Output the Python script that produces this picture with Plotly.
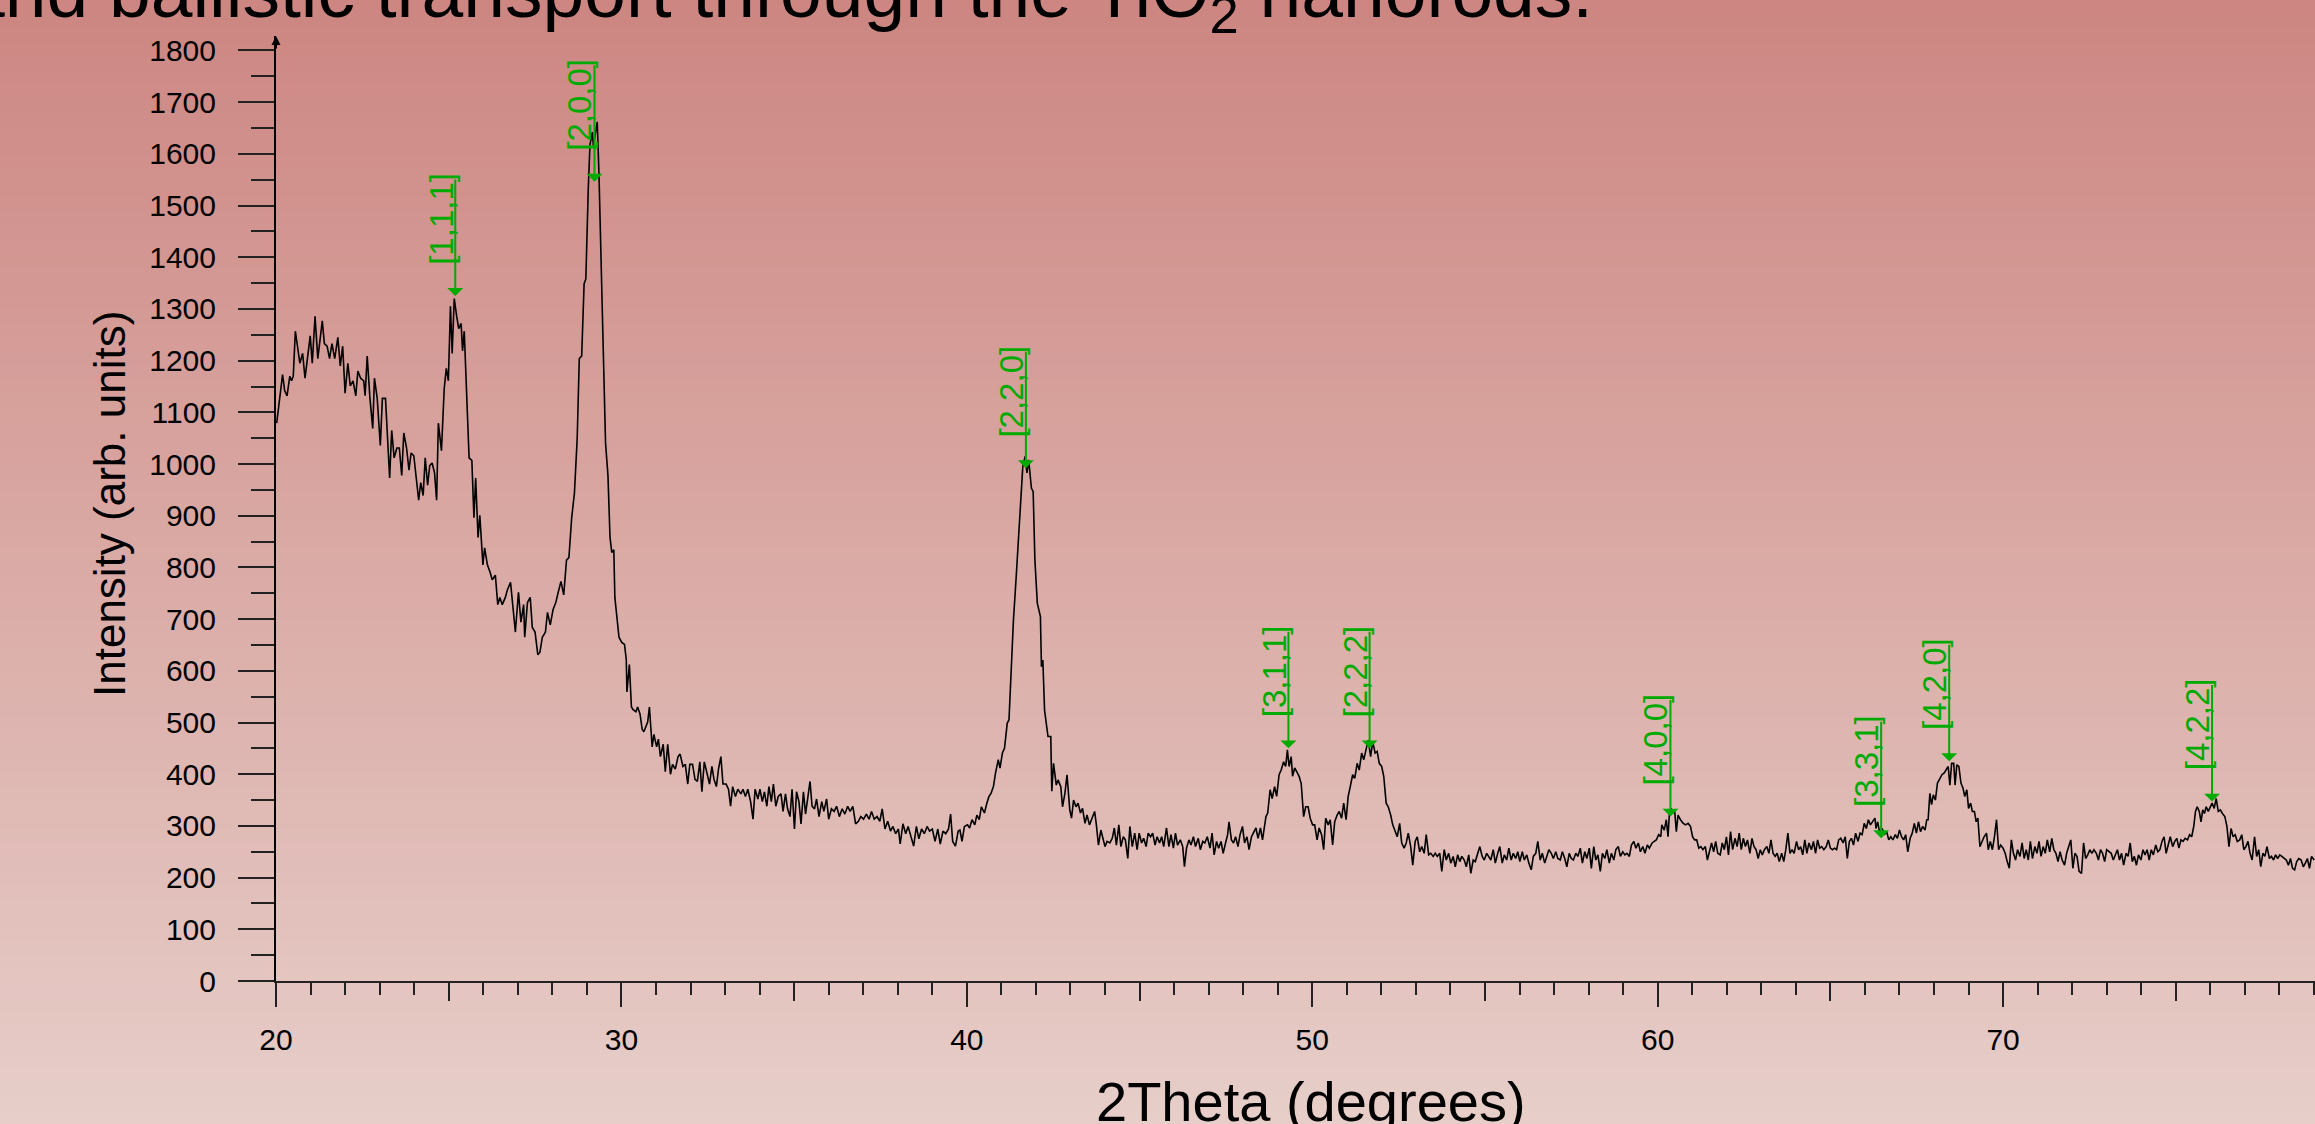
import plotly.graph_objects as go

# ---------------- data ----------------
two_theta = [
    20.02, 20.11, 20.19, 20.25, 20.32, 20.40, 20.45, 20.50, 20.56, 20.63, 20.69, 20.77, 20.84, 20.91, 20.99,
    21.05, 21.13, 21.21, 21.27, 21.34, 21.40, 21.48, 21.55, 21.62, 21.70, 21.79, 21.86, 21.93, 22.00, 22.08,
    22.15, 22.23, 22.31, 22.37, 22.45, 22.54, 22.58, 22.64, 22.72, 22.80, 22.85, 22.93, 23.02, 23.08, 23.17,
    23.21, 23.29, 23.35, 23.42, 23.50, 23.57, 23.64, 23.70, 23.78, 23.85, 23.91, 23.99, 24.06, 24.13, 24.19,
    24.26, 24.32, 24.39, 24.45, 24.52, 24.59, 24.65, 24.70, 24.79, 24.87, 24.93, 24.99, 25.05, 25.10, 25.16,
    25.23, 25.29, 25.36, 25.40, 25.45, 25.51, 25.59, 25.67, 25.73, 25.78, 25.85, 25.90, 25.99, 26.04, 26.12,
    26.20, 26.26, 26.35, 26.42, 26.48, 26.55, 26.64, 26.70, 26.79, 26.87, 26.93, 27.02, 27.09, 27.17, 27.20,
    27.28, 27.36, 27.42, 27.50, 27.58, 27.64, 27.71, 27.80, 27.86, 27.94, 28.02, 28.10, 28.17, 28.25, 28.33,
    28.41, 28.48, 28.56, 28.64, 28.72, 28.78, 28.85, 28.92, 28.97, 29.04, 29.09, 29.16, 29.19, 29.23, 29.30,
    29.35, 29.41, 29.48, 29.54, 29.61, 29.67, 29.72, 29.78, 29.81, 29.88, 29.93, 30.01, 30.09, 30.14, 30.16,
    30.23, 30.29, 30.34, 30.42, 30.47, 30.54, 30.60, 30.65, 30.76, 30.81, 30.89, 30.94, 31.02, 31.07, 31.13,
    31.21, 31.27, 31.34, 31.42, 31.48, 31.56, 31.64, 31.70, 31.78, 31.85, 31.92, 31.98, 32.06, 32.13, 32.20,
    32.27, 32.33, 32.40, 32.49, 32.55, 32.62, 32.68, 32.75, 32.81, 32.88, 32.94, 33.03, 33.10, 33.16, 33.22,
    33.30, 33.37, 33.46, 33.52, 33.59, 33.66, 33.74, 33.81, 33.87, 33.95, 34.01, 34.08, 34.14, 34.21, 34.27,
    34.34, 34.40, 34.47, 34.54, 34.62, 34.68, 34.75, 34.81, 34.88, 34.94, 35.01, 35.07, 35.14, 35.20, 35.27,
    35.33, 35.40, 35.46, 35.52, 35.59, 35.65, 35.72, 35.80, 35.86, 35.94, 36.00, 36.08, 36.16, 36.23, 36.31,
    36.39, 36.47, 36.55, 36.62, 36.70, 36.78, 36.86, 36.93, 37.01, 37.09, 37.17, 37.24, 37.32, 37.40, 37.48,
    37.55, 37.63, 37.71, 37.79, 37.86, 37.94, 38.02, 38.07, 38.15, 38.23, 38.30, 38.38, 38.46, 38.54, 38.61,
    38.69, 38.77, 38.85, 38.92, 39.00, 39.08, 39.16, 39.23, 39.31, 39.39, 39.47, 39.53, 39.59, 39.67, 39.75,
    39.80, 39.86, 39.93, 40.02, 40.08, 40.15, 40.23, 40.29, 40.36, 40.42, 40.51, 40.58, 40.64, 40.70, 40.77,
    40.83, 40.91, 40.96, 41.03, 41.09, 41.17, 41.22, 41.29, 41.35, 41.43, 41.49, 41.57, 41.62, 41.69, 41.74,
    41.79, 41.87, 41.92, 41.97, 42.04, 42.13, 42.16, 42.20, 42.25, 42.35, 42.43, 42.46, 42.51, 42.59, 42.64,
    42.72, 42.77, 42.84, 42.90, 42.98, 43.03, 43.09, 43.16, 43.22, 43.29, 43.35, 43.42, 43.48, 43.55, 43.62,
    43.70, 43.75, 43.81, 43.88, 43.93, 44.00, 44.06, 44.14, 44.21, 44.27, 44.33, 44.40, 44.46, 44.53, 44.59,
    44.66, 44.72, 44.79, 44.86, 44.93, 44.99, 45.06, 45.12, 45.19, 45.25, 45.32, 45.38, 45.45, 45.51, 45.58,
    45.64, 45.70, 45.78, 45.85, 45.91, 45.98, 46.04, 46.10, 46.18, 46.25, 46.30, 46.36, 46.43, 46.49, 46.56,
    46.62, 46.70, 46.76, 46.83, 46.89, 46.96, 47.04, 47.10, 47.16, 47.23, 47.29, 47.36, 47.42, 47.49, 47.55,
    47.59, 47.66, 47.72, 47.78, 47.85, 47.91, 47.98, 48.04, 48.11, 48.17, 48.24, 48.30, 48.37, 48.43, 48.50,
    48.56, 48.62, 48.66, 48.71, 48.78, 48.84, 48.91, 48.97, 49.04, 49.10, 49.17, 49.23, 49.28, 49.33, 49.39,
    49.43, 49.49, 49.55, 49.62, 49.68, 49.75, 49.81, 49.88, 49.94, 50.01, 50.07, 50.14, 50.20, 50.27, 50.33,
    50.39, 50.46, 50.52, 50.59, 50.65, 50.72, 50.78, 50.85, 50.91, 50.98, 51.04, 51.10, 51.17, 51.23, 51.30,
    51.36, 51.43, 51.49, 51.56, 51.62, 51.69, 51.75, 51.82, 51.88, 51.94, 52.01, 52.07, 52.14, 52.20, 52.27,
    52.33, 52.40, 52.46, 52.53, 52.59, 52.66, 52.72, 52.78, 52.85, 52.91, 52.98, 53.04, 53.11, 53.17, 53.24,
    53.30, 53.37, 53.43, 53.50, 53.56, 53.62, 53.69, 53.75, 53.82, 53.88, 53.95, 54.01, 54.08, 54.14, 54.21,
    54.27, 54.33, 54.40, 54.46, 54.53, 54.59, 54.66, 54.72, 54.79, 54.85, 54.92, 54.98, 55.05, 55.11, 55.17,
    55.24, 55.30, 55.37, 55.43, 55.50, 55.56, 55.63, 55.69, 55.76, 55.82, 55.89, 55.95, 56.01, 56.08, 56.14,
    56.21, 56.27, 56.34, 56.40, 56.47, 56.53, 56.60, 56.66, 56.73, 56.79, 56.85, 56.92, 56.98, 57.05, 57.11,
    57.18, 57.24, 57.31, 57.37, 57.44, 57.50, 57.56, 57.63, 57.69, 57.76, 57.82, 57.89, 57.95, 58.02, 58.08,
    58.15, 58.21, 58.27, 58.34, 58.40, 58.47, 58.53, 58.60, 58.66, 58.73, 58.79, 58.86, 58.92, 58.99, 59.05,
    59.11, 59.18, 59.24, 59.31, 59.37, 59.44, 59.50, 59.57, 59.63, 59.70, 59.76,
    59.84, 59.90, 59.96, 60.03, 60.09, 60.12, 60.19, 60.25, 60.30, 60.34, 60.39, 60.44, 60.49, 60.54, 60.59,
    60.66, 60.74, 60.81, 60.88, 60.95, 61.01, 61.07, 61.13, 61.19, 61.25, 61.31, 61.38, 61.44, 61.50, 61.56,
    61.62, 61.68, 61.74, 61.81, 61.87, 61.93, 61.99, 62.05, 62.11, 62.17, 62.24, 62.30, 62.36, 62.42, 62.48,
    62.54, 62.60, 62.67, 62.73, 62.79, 62.85, 62.91, 62.97, 63.03, 63.09, 63.16, 63.22, 63.28, 63.34, 63.40,
    63.46, 63.52, 63.59, 63.65, 63.71, 63.77, 63.83, 63.89, 63.95, 64.02, 64.08, 64.14, 64.20, 64.26, 64.32,
    64.38, 64.45, 64.51, 64.57, 64.63, 64.69, 64.75, 64.81, 64.88, 64.94, 65.00, 65.06, 65.12, 65.18, 65.24,
    65.30, 65.37, 65.43, 65.49, 65.55, 65.61, 65.67, 65.73, 65.80, 65.86, 65.92, 65.98, 66.04, 66.10, 66.16,
    66.23, 66.29, 66.32, 66.37, 66.43, 66.50, 66.56, 66.63, 66.69, 66.75, 66.81, 66.88, 66.94, 67.00, 67.06,
    67.12, 67.18, 67.24, 67.31, 67.37, 67.43, 67.49, 67.55, 67.61, 67.67, 67.74, 67.79, 67.83, 67.88, 67.93,
    67.98, 68.04, 68.10, 68.17, 68.23, 68.29, 68.35, 68.41, 68.46, 68.51, 68.57, 68.61, 68.66, 68.72, 68.78,
    68.84, 68.89, 68.95, 69.00, 69.06, 69.11, 69.17, 69.22, 69.27, 69.33, 69.39, 69.45, 69.52, 69.57, 69.63,
    69.69, 69.75, 69.81, 69.87, 69.93, 70.00, 70.06, 70.12, 70.18, 70.24, 70.30, 70.36, 70.42, 70.49, 70.55,
    70.61, 70.67, 70.73, 70.79, 70.85, 70.92, 70.98, 71.04, 71.10, 71.16, 71.22, 71.28, 71.35, 71.41, 71.47,
    71.53, 71.59, 71.65, 71.71, 71.78, 71.84, 71.90, 71.96, 72.02, 72.08, 72.14, 72.20, 72.27, 72.33, 72.39,
    72.45, 72.51, 72.57, 72.63, 72.70, 72.76, 72.82, 72.88, 72.94, 73.00, 73.06, 73.13, 73.19, 73.25, 73.31,
    73.37, 73.43, 73.49, 73.56, 73.62, 73.68, 73.74, 73.80, 73.86, 73.92, 73.99, 74.05, 74.11, 74.17, 74.23,
    74.29, 74.35, 74.42, 74.48, 74.54, 74.60, 74.66, 74.72, 74.78, 74.84, 74.91, 74.97, 75.03, 75.09, 75.15,
    75.21, 75.27, 75.34, 75.40, 75.46, 75.52, 75.57, 75.62, 75.68, 75.73, 75.78, 75.83, 75.88, 75.94, 75.99,
    76.05, 76.11, 76.17, 76.23, 76.29, 76.35, 76.42, 76.48, 76.54, 76.60, 76.66, 76.72, 76.78, 76.85, 76.91,
    76.97, 77.03, 77.09, 77.15, 77.21, 77.28, 77.34, 77.40, 77.46, 77.52, 77.58, 77.64, 77.71, 77.77, 77.83,
    77.89, 77.95, 78.01, 78.07, 78.14, 78.20, 78.26, 78.32, 78.38, 78.44, 78.50, 78.56, 78.63, 78.69, 78.75,
    78.81, 78.87, 78.93, 79.01,
]

intensity = [
    1079, 1127, 1173, 1142, 1132, 1170, 1161, 1170, 1257, 1224, 1195, 1214, 1166, 1204, 1248,
    1195, 1286, 1204, 1243, 1277, 1233, 1228, 1204, 1233, 1204, 1245, 1190, 1228, 1137, 1195,
    1151, 1161, 1132, 1180, 1166, 1161, 1132, 1209, 1127, 1069, 1166, 1127, 1036, 1127, 1127,
    1065, 973, 1065, 1012, 1031, 1031, 978, 1060, 1031, 988, 1021, 1016, 973, 930, 964,
    939, 1012, 959, 997, 1002, 983, 930, 1079, 1026, 1146, 1185, 1161, 1305, 1214, 1320,
    1286, 1262, 1272, 1219, 1257, 1146, 1012, 1007, 896, 973, 858, 901, 805, 838, 805,
    790, 776, 785, 728, 742, 728, 742, 757, 771, 713, 675, 752, 694, 728, 665,
    732, 742, 684, 675, 631, 636, 665, 675, 713, 689, 718, 732, 752, 773, 747,
    814, 819, 896, 944, 1050, 1204, 1209, 1349, 1358, 1532, 1618, 1642, 1614, 1633, 1662,
    1561, 1397, 1238, 1041, 978, 858, 829, 834, 742, 699, 665, 655, 651, 622, 559,
    612, 530, 525, 521, 530, 516, 487, 482, 501, 530, 453, 477, 453, 468, 434,
    458, 405, 458, 400, 419, 410, 434, 439, 415, 419, 381, 419, 419, 390, 386,
    424, 366, 424, 400, 381, 415, 390, 376, 410, 434, 381, 381, 371, 338, 376,
    357, 371, 362, 371, 357, 371, 347, 313, 371, 352, 371, 347, 366, 338, 376,
    347, 381, 338, 357, 362, 328, 362, 333, 318, 371, 294, 366, 347, 304, 366,
    323, 362, 386, 338, 333, 352, 318, 347, 328, 352, 313, 333, 328, 338, 318,
    333, 323, 338, 328, 338, 304, 309, 318, 313, 323, 313, 328, 313, 318, 309,
    333, 294, 309, 290, 299, 285, 294, 265, 304, 285, 299, 280, 261, 299, 275,
    294, 285, 299, 290, 294, 270, 294, 265, 290, 285, 294, 323, 270, 261, 290,
    292, 270, 299, 302, 296, 312, 302, 321, 312, 337, 325, 344, 357, 363, 376,
    402, 428, 412, 441, 450, 499, 505, 608, 699, 783, 853, 937, 995, 1015, 983,
    1008, 953, 947, 815, 731, 705, 608, 621, 524, 473, 473, 367, 421, 379, 389,
    376, 337, 363, 399, 331, 315, 350, 337, 344, 325, 334, 305, 321, 302, 315,
    328, 302, 263, 292, 276, 260, 270, 267, 276, 296, 263, 302, 260, 279, 273,
    237, 299, 260, 286, 254, 286, 267, 276, 260, 286, 279, 286, 263, 279, 267,
    279, 260, 296, 260, 283, 257, 286, 263, 273, 260, 221, 257, 273, 263, 279,
    260, 276, 254, 270, 267, 279, 257, 286, 244, 270, 257, 270, 247, 267, 283,
    308, 273, 267, 279, 260, 283, 299, 267, 279, 254, 279, 286, 296, 276, 296,
    273, 299, 318, 325, 370, 353, 376, 357, 399, 408, 424, 415, 447, 415, 434,
    396, 412, 405, 396, 382, 318, 337, 337, 315, 302, 302, 273, 296, 283, 254,
    315, 302, 312, 263, 308, 321, 328, 315, 344, 312, 357, 376, 399, 392, 421,
    408, 441, 428, 450, 466, 434, 463, 441, 444, 421, 415, 396, 344, 337, 321,
    302, 289, 279, 305, 267, 257, 267, 286, 260, 224, 270, 279, 250, 260, 247,
    283, 244, 247, 241, 247, 241, 247, 212, 254, 234, 247, 228, 241, 221, 244,
    231, 241, 234, 221, 244, 208, 234, 231, 247, 260, 241, 234, 247, 241, 234,
    254, 228, 247, 260, 228, 244, 234, 257, 234, 247, 237, 250, 231, 250, 234,
    244, 228, 215, 241, 247, 270, 234, 247, 228, 241, 254, 247, 237, 250, 237,
    234, 250, 237, 221, 247, 237, 234, 247, 241, 257, 228, 250, 237, 257, 218,
    260, 234, 244, 212, 247, 237, 254, 228, 247, 234, 254, 260, 241, 250, 244,
    247, 241, 263, 270, 257, 267, 250, 260, 247, 263, 257,
    267, 270, 273, 283, 279, 302, 292, 312, 279, 325, 334, 325, 331, 289, 321,
    312, 305, 302, 305, 299, 279, 273, 273, 257, 260, 254, 260, 234, 254, 267,
    250, 270, 247, 244, 267, 254, 279, 244, 289, 254, 276, 260, 286, 254, 276,
    260, 273, 247, 276, 260, 254, 237, 254, 244, 254, 260, 247, 273, 247, 241,
    247, 231, 247, 231, 254, 286, 247, 254, 247, 270, 254, 260, 244, 273, 247,
    267, 254, 270, 247, 273, 257, 260, 254, 260, 273, 257, 254, 257, 254, 273,
    276, 267, 279, 237, 270, 276, 263, 286, 270, 286, 283, 305, 295, 312, 302,
    308, 315, 295, 308, 286, 295, 283, 289, 273, 279, 273, 283, 276, 292, 279,
    273, 283, 250, 276, 286, 305, 286, 308, 289, 299, 292, 312, 312, 363, 341,
    360, 350, 383, 392, 399, 402, 408, 415, 379, 421, 421, 379, 418, 415, 383,
    373, 357, 370, 334, 344, 328, 328, 308, 315, 260, 270, 279, 286, 254, 270,
    254, 279, 312, 254, 263, 257, 247, 231, 218, 273, 247, 234, 254, 241, 267,
    237, 254, 234, 270, 237, 260, 247, 270, 241, 260, 247, 273, 250, 276, 254,
    247, 231, 250, 234, 224, 247, 260, 273, 218, 247, 241, 212, 208, 267, 237,
    244, 254, 247, 254, 247, 234, 254, 247, 231, 254, 250, 247, 234, 244, 254,
    234, 247, 224, 247, 241, 267, 231, 241, 224, 244, 234, 254, 244, 254, 234,
    254, 244, 263, 250, 254, 270, 279, 247, 263, 279, 260, 270, 276, 257, 273,
    270, 276, 273, 283, 279, 299, 328, 337, 328, 308, 331, 324, 337, 328, 337,
    344, 334, 353, 328, 331, 324, 318, 299, 260, 295, 279, 283, 270, 273, 283,
    254, 260, 270, 247, 234, 279, 241, 254, 221, 247, 241, 260, 237, 241, 234,
    244, 237, 244, 241, 237, 234, 224, 237, 218, 215, 231, 237, 234, 221, 228,
    237, 218, 241, 234,
]

peak_labels = ["[1,1,1]", "[2,0,0]", "[2,2,0]", "[3,1,1]", "[2,2,2]",
               "[4,0,0]", "[3,3,1]", "[4,2,0]", "[4,2,2]"]
peak_2theta = [25.19, 29.22, 41.71, 49.31, 51.66, 60.37, 66.47, 68.44, 76.05]
peak_marker_intensity = [1325, 1546, 992, 450, 450, 318, 276, 425, 347]

x_tick_values = [20, 30, 40, 50, 60, 70]
x_mid_tick_values = [25, 35, 45, 55, 65, 75]
title_text = "and ballistic transport through the TiO<sub>2</sub> nanorods."
x_title = "2Theta (degrees)"
y_title = "Intensity (arb. units)"

# ---------------- styling ----------------
W, H = 2315, 1124
FONT = "Liberation Sans, Arial, Helvetica, sans-serif"
GREEN = "#00aa00"
X_RANGE = [20, 79.03]
Y_RANGE = [0, 1828]
X_DOMAIN = [276 / W, 1.0]
Y_DOMAIN = [(H - 981) / H, (H - 36) / H]

fig = go.Figure()

fig.add_trace(go.Scatter(
    x=two_theta, y=intensity, mode="lines",
    line=dict(color="black", width=1.6),
    hoverinfo="skip", showlegend=False,
))
# helper trace so that the secondary (5-degree tick) axis is drawn
fig.add_trace(go.Scatter(
    x=two_theta[:1], y=intensity[:1], xaxis="x2", mode="lines",
    line=dict(width=0), hoverinfo="skip", showlegend=False,
))

# vertical background gradient
top_rgb = (205, 134, 130)
bot_rgb = (231, 206, 201)
n_bands = 80
shapes = []
for i in range(n_bands):
    t = (i + 0.5) / n_bands
    c = tuple(round(top_rgb[k] + (bot_rgb[k] - top_rgb[k]) * t) for k in range(3))
    shapes.append(dict(
        type="rect", xref="paper", yref="paper", layer="below",
        x0=0, x1=1, y0=1 - (i + 1) / n_bands - 0.001, y1=1 - i / n_bands,
        fillcolor="rgb(%d,%d,%d)" % c, line=dict(width=0),
    ))

annotations = []
# title fragment at the top (cut by the picture edge)
annotations.append(dict(
    text=title_text, xref="paper", yref="paper", x=-39 / W, y=1 + 53 / H,
    xanchor="left", yanchor="top", showarrow=False,
    font=dict(family=FONT, size=75, color="black"),
))
# axis titles
annotations.append(dict(
    text=y_title, xref="paper", yref="paper", x=109 / W, y=(H - 504) / H,
    xanchor="center", yanchor="middle", textangle=-90, showarrow=False,
    font=dict(family=FONT, size=44, color="black"),
))
annotations.append(dict(
    text=x_title, xref="paper", yref="paper", x=1311 / W, y=(H - 1101) / H,
    xanchor="center", yanchor="middle", showarrow=False,
    font=dict(family=FONT, size=56, color="black"),
))
# arrow head at the top of the y axis
annotations.append(dict(
    text="", x=X_RANGE[0], y=Y_RANGE[1], xref="x", yref="y",
    ax=0, ay=14, showarrow=True, arrowhead=2, arrowsize=0.9, arrowwidth=2,
    arrowcolor="black", standoff=0,
))
# peak indexing markers
for lab, px, pv in zip(peak_labels, peak_2theta, peak_marker_intensity):
    annotations.append(dict(
        text="", x=px, y=pv, xref="x", yref="y", ax=0, ay=-118,
        showarrow=True, arrowhead=1, arrowsize=1.33, arrowwidth=2,
        arrowcolor=GREEN, standoff=0,
    ))
    annotations.append(dict(
        text=lab, x=px, y=pv, xref="x", yref="y", showarrow=False,
        textangle=-90, xanchor="right", yanchor="bottom", xshift=6, yshift=29,
        font=dict(family=FONT, size=33, color=GREEN),
    ))

fig.update_layout(
    width=W, height=H, template="none",
    margin=dict(l=0, r=0, t=0, b=0, pad=0),
    paper_bgcolor="rgba(0,0,0,0)", plot_bgcolor="rgba(0,0,0,0)",
    showlegend=False,
    shapes=shapes, annotations=annotations,
    font=dict(family=FONT, color="black"),
    xaxis=dict(
        domain=X_DOMAIN, range=X_RANGE, anchor="y", automargin=False,
        showgrid=False, zeroline=False, showline=True, linecolor="#222", linewidth=2,
        tickmode="array", tickvals=x_tick_values, ticks="outside", ticklen=24,
        tickwidth=1.5, tickcolor="#222", ticklabelstandoff=7,
        tickfont=dict(family=FONT, size=30, color="black"),
        minor=dict(dtick=1, tick0=20, ticks="outside", ticklen=12, tickwidth=1.5,
                   tickcolor="#222", showgrid=False),
    ),
    xaxis2=dict(
        overlaying="x", anchor="y", range=X_RANGE, automargin=False,
        showgrid=False, zeroline=False, showline=False,
        tickmode="array", tickvals=x_mid_tick_values, ticks="outside", ticklen=19,
        tickwidth=1.5, tickcolor="#222", showticklabels=False, side="bottom",
    ),
    yaxis=dict(
        domain=Y_DOMAIN, range=Y_RANGE, anchor="x", automargin=False,
        showgrid=False, zeroline=False, showline=True, linecolor="black", linewidth=2,
        tickmode="linear", tick0=0, dtick=100, ticks="outside", ticklen=36,
        tickwidth=1.5, tickcolor="#222", ticklabelstandoff=16,
        tickfont=dict(family=FONT, size=30, color="black"),
        minor=dict(dtick=50, tick0=0, ticks="outside", ticklen=23, tickwidth=1.5,
                   tickcolor="#222", showgrid=False),
    ),
)

fig.write_html("out.html")
